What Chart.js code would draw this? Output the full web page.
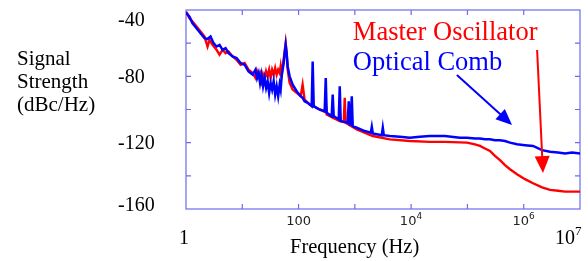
<!DOCTYPE html>
<html>
<head>
<meta charset="utf-8">
<script src="https://cdn.jsdelivr.net/npm/chart.js@4/dist/chart.umd.min.js"></script>
<style>
  html, body { margin: 0; padding: 0; background: #ffffff; }
  #wrap { width: 588px; height: 261px; }
</style>
</head>
<body>
<div id="wrap"><canvas id="c" width="588" height="261"></canvas></div>
<script>
// ---- Data ----
const combFreq = [1,1.154,1.305,1.538,1.811,2.134,2.413,2.729,3.085,3.489,3.946,4.462,5.046,5.705,6.72,7.92,9.33,11.0,12.9,15.3,17.2,18.3,19.5,20.7,22.0,23.4,24.9,26.5,28.2,30.0,31.9,33.9,36.1,38.4,40.8,43.4,46.1,48.0,50.0,54.3,56.6,59.0,61.4,64.0,69.4,78.5,92.5,109,118,128,145,171,178,186,237,291,304,316,388,404,421,517,539,561,747,779,812,845,881,917,1081,1500,1919,2000,2082,3010,3136,3268,4178,6310,9484,14290,21520,39780,73550,98000,136000,166900,204800,251400,308500,378700,464800,570500,760000,1055000,1464000,2117000,2938000,4077000,5432000,7235000,10000000];
const combDb = [-41.5,-44,-48,-51,-54,-57,-57.5,-56,-60,-62,-61,-64,-63,-66,-68,-69,-72,-73,-77,-79,-76,-81,-78,-84,-79,-86,-81,-87,-83,-90,-84,-88,-83,-91,-86,-92,-85,-88,-80,-72,-66,-61,-66,-74,-80,-85,-89,-92,-93,-95,-96,-98,-71,-98,-100,-101,-81,-102,-104,-91,-104,-106,-86,-107,-108,-95,-109,-109,-92,-110,-111,-113,-114,-110.5,-114.5,-115.5,-111,-115.5,-116,-116.5,-117,-116.5,-116,-116,-117,-117,-117.5,-117.5,-118,-118,-118.5,-118.5,-119,-120,-121,-121.5,-122,-124.5,-125.5,-126,-126.5,-126,-126.5];

const oscFreq = [1,1.154,1.305,1.538,1.811,2.134,2.413,2.619,2.961,3.489,3.946,4.462,5.046,5.705,6.72,7.92,9.33,11.0,12.9,15.3,17.2,18.3,19.5,20.7,22.0,23.4,24.9,26.5,28.2,30.0,31.9,33.9,36.1,38.4,40.8,43.4,46.1,48.0,50.0,54.3,59.0,61.4,64.0,69.4,78.5,92.5,109,118,128,158,237,291,304,316,404,539,635,661,689,1081,2082,4178,9484,21520,39780,98000,136000,166900,204800,251400,308500,378700,464800,570500,760000,1055000,1464000,2117000,2938000,4077000,5432000,7235000,10000000];
const oscDb = [-41,-45,-47,-50,-53,-56,-62,-58,-61,-64,-67,-64,-66,-65,-68,-70,-73,-72,-76,-78,-81,-77,-80,-78,-83,-79,-82,-77,-80,-76,-81,-76,-79,-75,-79,-76,-78,-74,-79,-70,-60,-66,-76,-84,-88,-90,-92,-85,-94,-97,-100,-101.5,-96,-103,-105,-107,-107.5,-93,-108,-112,-116,-118,-119,-119.5,-119.5,-120,-121,-122,-123.5,-125,-128,-130.5,-133.5,-136,-139,-142,-144.5,-147,-148.5,-149,-149.5,-149.5,-149.5];

const seriesNames = ["Optical Comb", "Master Oscillator"];
const yTickLabels = [-40, -80, -120, -160];
const xSmallTicks = [{v: 100, base: "100", exp: ""}, {v: 1e4, base: "10", exp: "4"}, {v: 1e6, base: "10", exp: "6"}];
const xBigTicks = [{v: 1, base: "1", exp: ""}, {v: 1e7, base: "10", exp: "7"}];
const xTitle = "Frequency (Hz)";
const yTitleLines = ["Signal", "Strength", "(dBc/Hz)"];
// annotation anchors in data units (freq, dB)
const oscLabelAt = [920, -53.9];
const combLabelAt = [920, -72];
const combArrow = [[65000, -79.2], [620000, -109.3]];
const oscArrow = [[1730000, -64.1], [2200000, -138.3]];

const toXY = (f, d) => f.map((x, i) => ({x: x, y: d[i]}));
const FRAME = '#6b6bf0';
const SERIF = '"Liberation Serif", "Times New Roman", serif';

const decorations = {
  id: 'decorations',
  beforeDatasetsDraw(chart) {
    const {ctx, chartArea: a, scales: {x, y}} = chart;
    ctx.save();
    ctx.strokeStyle = FRAME;
    ctx.lineWidth = 1.2;
    ctx.strokeRect(a.left, a.top, a.right - a.left, a.bottom - a.top);
    ctx.beginPath();
    for (let e = 1; e < 7; e++) {
      const px = x.getPixelForValue(Math.pow(10, e));
      ctx.moveTo(px, a.bottom); ctx.lineTo(px, a.bottom - 5);
      ctx.moveTo(px, a.top); ctx.lineTo(px, a.top + 5);
    }
    for (let v = -140; v <= -60; v += 20) {
      const py = y.getPixelForValue(v);
      ctx.moveTo(a.left, py); ctx.lineTo(a.left + 5, py);
      ctx.moveTo(a.right, py); ctx.lineTo(a.right - 5, py);
    }
    ctx.stroke();
    ctx.restore();
  },
  afterDraw(chart) {
    const {ctx, chartArea: a, scales: {x, y}} = chart;
    ctx.save();
    // y tick labels
    ctx.fillStyle = '#000';
    ctx.font = '20px ' + SERIF;
    ctx.textAlign = 'left';
    ctx.textBaseline = 'middle';
    yTickLabels.forEach(v => {
      let py = y.getPixelForValue(v);
      py = Math.max(a.top + 11, Math.min(a.bottom - 3, py + 1));
      ctx.fillText(String(v), 118, py);
    });
    // y title
    ctx.font = '21px ' + SERIF;
    yTitleLines.forEach((t, i) => ctx.fillText(t, 17, 59 + i * 23));
    // small x tick labels
    ctx.fillStyle = '#222';
    ctx.textAlign = 'center';
    xSmallTicks.forEach(t => {
      const px = x.getPixelForValue(t.v);
      ctx.font = '13px "DejaVu Sans", sans-serif';
      if (t.exp) {
        const w = ctx.measureText(t.base).width;
        ctx.fillText(t.base, px - 3, 222);
        ctx.font = '9px "DejaVu Sans", sans-serif';
        ctx.fillText(t.exp, px - 3 + w / 2 + 3, 217);
      } else {
        ctx.fillText(t.base, px, 222);
      }
    });
    // mask lower part like the reference
    ctx.fillStyle = '#fff';
    ctx.fillRect(250, 225, 340, 12);
    // big x labels
    ctx.fillStyle = '#000';
    xBigTicks.forEach(t => {
      const px = x.getPixelForValue(t.v);
      ctx.font = '20px ' + SERIF;
      if (t.exp) {
        ctx.textAlign = 'right';
        ctx.fillText(t.base, px - 5, 239);
        ctx.font = '13px ' + SERIF;
        ctx.textAlign = 'left';
        ctx.fillText(t.exp, px - 5, 232);
      } else {
        ctx.textAlign = 'center';
        ctx.fillText(t.base, px - 2, 239);
      }
    });
    ctx.textAlign = 'left';
    ctx.font = '20.5px ' + SERIF;
    ctx.fillText(xTitle, 290, 248);
    // legend texts
    ctx.font = '26.5px ' + SERIF;
    ctx.fillStyle = '#ff0000';
    ctx.fillText(seriesNames[1], x.getPixelForValue(oscLabelAt[0]), y.getPixelForValue(oscLabelAt[1]));
    ctx.fillStyle = '#0000ff';
    ctx.fillText(seriesNames[0], x.getPixelForValue(combLabelAt[0]), y.getPixelForValue(combLabelAt[1]));
    // arrows
    const arrow = (p0, p1, color, head, width) => {
      const x0 = x.getPixelForValue(p0[0]), y0 = y.getPixelForValue(p0[1]);
      const x1 = x.getPixelForValue(p1[0]), y1 = y.getPixelForValue(p1[1]);
      const ang = Math.atan2(y1 - y0, x1 - x0);
      ctx.strokeStyle = color; ctx.fillStyle = color; ctx.lineWidth = 2;
      ctx.beginPath();
      ctx.moveTo(x0, y0);
      ctx.lineTo(x1 - Math.cos(ang) * head * 0.8, y1 - Math.sin(ang) * head * 0.8);
      ctx.stroke();
      ctx.beginPath();
      ctx.moveTo(x1, y1);
      ctx.lineTo(x1 - Math.cos(ang) * head + Math.sin(ang) * width, y1 - Math.sin(ang) * head - Math.cos(ang) * width);
      ctx.lineTo(x1 - Math.cos(ang) * head - Math.sin(ang) * width, y1 - Math.sin(ang) * head + Math.cos(ang) * width);
      ctx.closePath();
      ctx.fill();
    };
    arrow(combArrow[0], combArrow[1], '#0000ff', 16, 7);
    arrow(oscArrow[0], oscArrow[1], '#ff0000', 17, 7.5);
    ctx.restore();
  }
};

new Chart(document.getElementById('c'), {
  type: 'line',
  data: {
    datasets: [
      { label: seriesNames[0], data: toXY(combFreq, combDb), borderColor: '#0000ff', borderWidth: 2.5, pointRadius: 0, tension: 0, order: 0 },
      { label: seriesNames[1], data: toXY(oscFreq, oscDb), borderColor: '#ff0000', borderWidth: 2.4, pointRadius: 0, tension: 0, order: 1 }
    ]
  },
  options: {
    responsive: false,
    animation: false,
    devicePixelRatio: 1,
    layout: { padding: { left: 186, right: 8, top: 10, bottom: 52 } },
    plugins: { legend: { display: false }, tooltip: { enabled: false } },
    scales: {
      x: { type: 'logarithmic', min: 1, max: 1e7, display: false },
      y: { type: 'linear', min: -160, max: -40, display: false }
    }
  },
  plugins: [decorations]
});
</script>
</body>
</html>
